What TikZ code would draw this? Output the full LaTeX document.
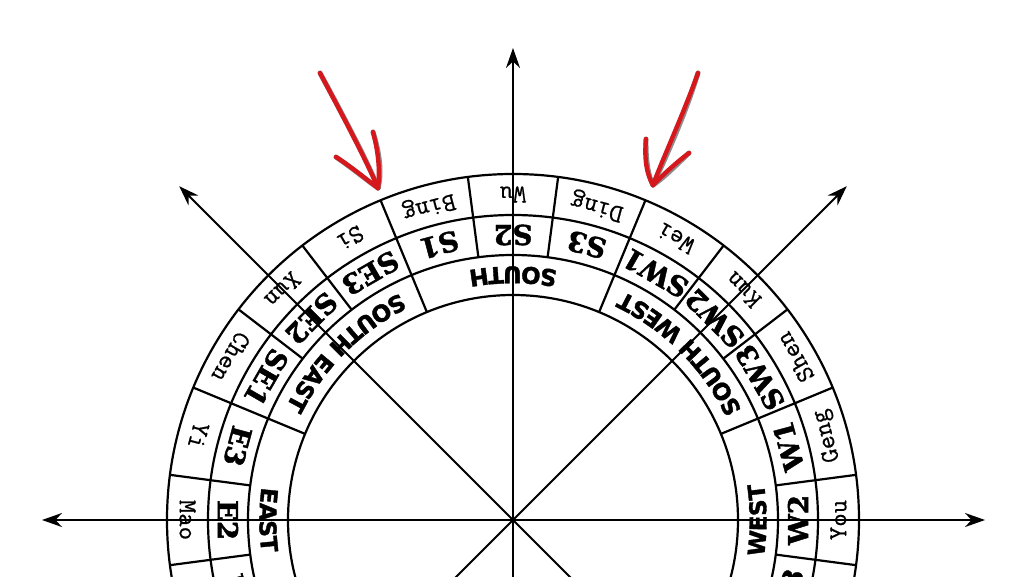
\documentclass[tikz,border=0pt]{standalone}
\usepackage{fontspec}
\usetikzlibrary{arrows.meta,decorations.text}
\newfontfamily\outerfont{Latin Modern Mono}[FakeBold=0.6]
\newfontfamily\midfont{DejaVu Serif}[BoldFeatures={FakeBold=1.6}]
\newfontfamily\innerfont{DejaVu Sans}[BoldFeatures={FakeBold=1.6}]
\definecolor{penred}{RGB}{214,24,28}
\newcommand\innerlabel{\innerfont\bfseries\fontsize{23}{23}\selectfont}
\newcommand\innerarc[2]{%
  \path[decorate,decoration={text along path,text align=center,
     text={|\innerlabel|#2}}]
     (#1-50:253.5) arc[start angle=#1-50,end angle=#1+50,radius=253.5];}
\tikzset{
  axisline/.style={line width=1.9pt,black},
  ringline/.style={line width=2.2pt,black},
  outerlbl/.style={font=\outerfont\fontsize{26}{26}\selectfont,inner sep=0pt},
  midlbl/.style={font=\midfont\bfseries\fontsize{27.5}{27.5}\selectfont,inner sep=0pt},
  redpen/.style={line width=4.4pt,penred,line cap=round,line join=round},
  redshadow/.style={line width=5pt,black!75,opacity=0.6,line cap=round,line join=round,shift={(1.6pt,-1.8pt)}},
  >={Stealth[length=20pt,width=14pt]}
}
\begin{document}
\begin{tikzpicture}[x=1pt,y=1pt]
\useasboundingbox (-513,-56) rectangle (511,520);
\fill[white] (-513,-56) rectangle (511,520);
\clip (-513,-56) rectangle (511,520);

% axis end points
\coordinate (O) at (0,0);
\coordinate (Etip) at (-471,0);
\coordinate (Wtip) at (472,0);
\coordinate (Ntip) at (0,472);
\coordinate (Sbot) at (0,-90);
\coordinate (ULtip) at (135:472);
\coordinate (URtip) at (45:472);
\coordinate (LRend) at (-45:160);
\coordinate (LLend) at (-135:160);

\draw[axisline,<->] (Etip) -- (Wtip);
\draw[axisline,->] (Sbot) -- (Ntip);
\draw[axisline,->] (LRend) -- (ULtip);
\draw[axisline,->] (LLend) -- (URtip);

% rings
\foreach \r in {225,265,305,346} \draw[ringline] (O) circle[radius=\r];
\foreach \a in {7.5,22.5,...,352.5} \draw[ringline] (\a:265) -- (\a:346);
\foreach \a in {22.5,67.5,...,337.5} \draw[ringline] (\a:225) -- (\a:265);

% outer ring names
\foreach \a/\t in {90/Wu,105/Bing,120/Si,135/Xun,150/Chen,165/Yi,180/Mao,
                   75/Ding,60/Wei,45/Kun,30/Shen,15/Geng,0/You}
  \node[outerlbl,rotate=\a+90] (o\a) at (\a:325.5) {\t};

% middle ring
\foreach \a/\t in {90/S2,105/S1,75/S3,120/SE3,135/SE2,150/SE1,165/E3,180/E2,195/E1,
                   60/SW1,45/SW2,30/SW3,15/W1,0/W2,-15/W3}
  \node[midlbl,rotate=\a+90] (m\a) at (\a:285) {\t};

% inner ring
\innerarc{90}{SOUTH}
\innerarc{135}{SOUTH EAST}
\innerarc{180}{EAST}
\innerarc{45}{SOUTH WEST}
\innerarc{0}{WEST}

% red hand-drawn arrows
\coordinate (LA) at (-193,447);
\coordinate (LT) at (-135,332);
\coordinate (LB1) at (-177,363);
\coordinate (LB2) at (-140,388);
\coordinate (RA) at (185,447);
\coordinate (RT) at (140,335);
\coordinate (RB1) at (133,381);
\coordinate (RB2) at (176,367);
\foreach \s in {redshadow,redpen}{
  \draw[\s] (LA) .. controls (-168,400) and (-146,358) .. (LT);
  \draw[\s] (LB1) .. controls (-160,352) and (-146,340) .. (LT);
  \draw[\s] (LB2) .. controls (-134,366) and (-133,346) .. (LT);
  \draw[\s] (RA) .. controls (170,405) and (150,362) .. (RT);
  \draw[\s] (RB1) .. controls (131,360) and (134,345) .. (RT);
  \draw[\s] (RB2) .. controls (160,355) and (148,343) .. (RT);
}
\end{tikzpicture}
\end{document}
